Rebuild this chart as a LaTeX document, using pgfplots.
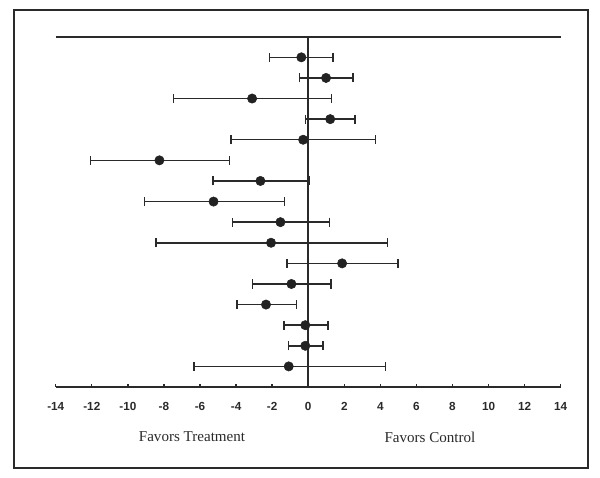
\documentclass[border=0pt]{standalone}
\usepackage{fontspec}
\setmainfont{Liberation Serif}
\setsansfont{Liberation Sans}
\usepackage{pgfplots}
\usepackage{pgfplotstable}
\pgfplotsset{compat=1.18}
\definecolor{ink}{HTML}{2A2A2A}
\definecolor{dot}{HTML}{222222}
\pgfplotstableread{
y x lo hi
16 -0.38 -2.14 1.38
15 0.99 -0.47 2.49
14 -3.11 -7.47 1.29
13 1.22 -0.16 2.60
12 -0.28 -4.28 3.73
11 -8.25 -12.08 -4.36
10 -2.65 -5.28 0.05
9 -5.25 -9.09 -1.30
8 -1.54 -4.21 1.19
7 -2.06 -8.43 4.41
6 1.88 -1.17 4.97
5 -0.93 -3.10 1.27
4 -2.34 -3.95 -0.66
3 -0.16 -1.34 1.10
2 -0.16 -1.10 0.83
1 -1.08 -6.32 4.29
}\forest
\begin{document}
\begin{tikzpicture}
\path (0pt,0pt) rectangle (450pt,358.5pt);
\draw[ink, line width=1.2pt] (10.5pt,7.5pt) rectangle (441pt,351pt);
\begin{axis}[
  at={(41.8pt,68.25pt)}, anchor=south west,
  scale only axis, width=378.7pt, height=262.7pt,
  xmin=-14, xmax=14, ymin=0, ymax=17,
  axis y line=none,
  axis x line*=bottom,
  axis line style={ink, line width=1.3pt, -},
  xtick={-14,-12,...,14},
  xtick align=inside,
  major tick length=2.5pt,
  tick style={ink, line width=1pt},
  ytick=\empty,
  /pgf/number format/assume math mode=true,
  xticklabel style={font=\sffamily\bfseries\fontsize{8.8}{10}\selectfont, yshift=-8pt, text=ink},
  clip=false,
]
\draw[ink, line width=1.3pt] (axis cs:-14,17) -- (axis cs:14,17);
\draw[ink, line width=1.2pt] (axis cs:0,0) -- (axis cs:0,17);
\addplot[only marks, mark=*, mark size=3.5pt, mark options={fill=dot, draw=dot},
  error bars/.cd, x dir=both, x explicit,
  error bar style={ink, line width=1.1pt},
  error mark options={ink, line width=1.1pt, mark size=3.4pt, rotate=90}]
  table[x=x, y=y,
    x error plus expr=\thisrow{hi}-\thisrow{x},
    x error minus expr=\thisrow{x}-\thisrow{lo}] {\forest};
\end{axis}
\node[font=\fontsize{11.3}{13}\selectfont, text=ink] at (144pt,30.75pt) {Favors Treatment};
\node[font=\fontsize{11.3}{13}\selectfont, text=ink] at (322.5pt,30.75pt) {Favors Control};
\end{tikzpicture}
\end{document}
